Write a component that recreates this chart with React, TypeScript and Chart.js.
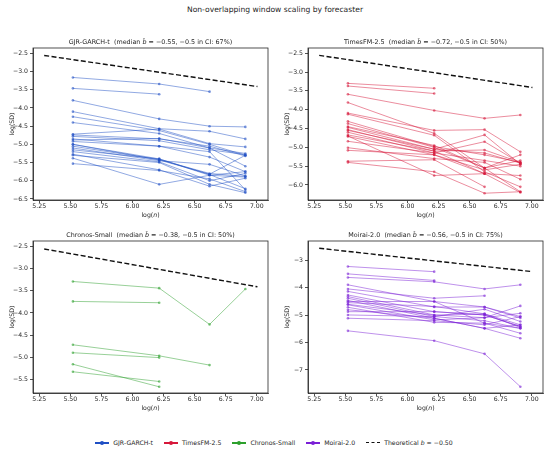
import { useEffect, useRef } from 'react';
import { Chart, registerables } from 'chart.js';

Chart.register(...registerables);
Chart.defaults.font.family = '"DejaVu Sans", sans-serif';

// log(n) for n = 250, 500, 750, 1000
const LOG_N = [5.521, 6.215, 6.62, 6.908];
const X_TICKS = [5.25, 5.5, 5.75, 6.0, 6.25, 6.5, 6.75, 7.0];

// theoretical slope -0.5 reference line (endpoints)
const THEORY_X = [5.29, 7.005];
const THEORY_Y = [-2.555, -3.41];

const GJR_SERIES = [
  [-3.16, -3.34, -3.55],
  [-3.46, -3.62],
  [-3.79, -4.3, -4.5, -4.52],
  [-4.1, -4.57, -4.64, -4.85],
  [-4.24, -4.62, -5.0, -5.3],
  [-4.4, -4.7, -5.1, -5.25],
  [-4.72, -4.58, -4.98, -5.07],
  [-4.74, -4.85, -5.05, -5.32],
  [-4.85, -5.05, -5.2, -6.25],
  [-4.88, -4.84, -5.1, -5.6],
  [-4.92, -5.05, -5.35, -5.75],
  [-5.0, -5.4, -5.85, -5.9],
  [-5.05, -5.42, -5.8, -5.88],
  [-5.1, -5.45, -5.55, -5.87],
  [-5.15, -5.4, -5.83, -6.22],
  [-5.2, -5.48, -6.0, -5.8],
  [-5.27, -5.7, -6.15, -5.93],
  [-5.3, -5.5, -6.1, -6.33],
  [-5.38, -6.1, -5.85, -5.75],
  [-5.53, -5.72, -5.95, -6.3],
  [-4.78, -4.9, -5.15, -5.28],
  [-5.0, -5.43, -5.82, -5.3],
];

const TIMESFM_SERIES = [
  [-3.3, -3.43],
  [-3.37, -3.57],
  [-3.59, -4.02, -4.23, -4.14],
  [-3.81, -4.63, -5.55, -6.18],
  [-4.09, -4.55, -4.53, -5.12],
  [-4.12, -4.68, -5.65, -6.05],
  [-4.31, -4.98, -5.2, -5.4],
  [-4.37, -5.0, -5.55, -5.2],
  [-4.47, -5.05, -4.67, -5.45],
  [-4.53, -5.1, -5.7, -5.75],
  [-4.6, -5.15, -5.35, -5.5],
  [-4.67, -5.1, -5.07, -5.4],
  [-4.71, -5.2, -5.6, -5.45],
  [-4.84, -5.15, -4.85, -5.42],
  [-5.01, -5.3, -5.4, -5.85],
  [-5.08, -5.2, -5.7, -6.2],
  [-5.37, -5.33, -6.05],
  [-5.4, -5.65, -6.22, -6.18],
  [-4.55, -5.05, -5.15, -5.42],
  [-4.45, -4.95, -5.55, -5.35],
  [-4.7, -5.75, -5.7],
];

const CHRONOS_SERIES = [
  [-3.29, -3.44, -4.26, -3.46],
  [-3.74, -3.77],
  [-4.72, -4.97, -5.18],
  [-4.9, -5.01],
  [-5.16, -5.67],
  [-5.33, -5.55],
];

const MOIRAI_SERIES = [
  [-3.22, -3.41],
  [-3.49, -3.73],
  [-3.62, -3.78, -4.04, -3.89],
  [-3.89, -4.5, -5.29, -5.48],
  [-4.04, -4.38, -4.29],
  [-4.13, -4.7, -4.7, -5.05],
  [-4.26, -4.87, -4.99, -5.41],
  [-4.32, -4.99, -5.09, -4.66],
  [-4.38, -5.05, -4.78, -5.23],
  [-4.46, -5.11, -5.48, -5.35],
  [-4.54, -4.68, -4.95, -5.45],
  [-4.62, -5.17, -5.09, -4.93],
  [-4.71, -5.26, -5.29, -5.66],
  [-4.8, -5.11, -5.48, -5.84],
  [-4.87, -4.87, -4.99, -5.41],
  [-4.99, -5.05, -5.2, -5.48],
  [-5.11, -5.2, -5.35, -5.05],
  [-5.57, -5.93, -6.41, -7.61],
  [-4.5, -4.5, -4.7, -5.1],
  [-4.6, -5.0, -4.95, -5.35],
];

const Y_TICKS_GJR = [-6.5, -6.0, -5.5, -5.0, -4.5, -4.0, -3.5, -3.0, -2.5];
const Y_TICKS_TIMESFM = [-6.0, -5.5, -5.0, -4.5, -4.0, -3.5, -3.0, -2.5];
const Y_TICKS_CHRONOS = [-5.5, -5.0, -4.5, -4.0, -3.5, -3.0, -2.5];
const Y_TICKS_MOIRAI = [-7, -6, -5, -4, -3];

const COLORS = {
  gjr: '31, 79, 196',
  timesfm: '214, 23, 58',
  chronos: '44, 160, 44',
  moirai: '122, 31, 214',
};

const FONT = 6.2;
const INK = '#262626';

const framePlugin = {
  id: 'frame',
  afterDraw(chart: Chart) {
    const { ctx, chartArea } = chart;
    ctx.save();
    ctx.strokeStyle = INK;
    ctx.lineWidth = 0.8;
    ctx.strokeRect(chartArea.left, chartArea.top, chartArea.right - chartArea.left, chartArea.bottom - chartArea.top);
    ctx.restore();
  },
};

const fmt = (v: number, d: number) => v.toFixed(d).replace('-', '\u2212');

interface PanelProps {
  name: string;
  median: string;
  share: string;
  series: number[][];
  color: string;
  yMin: number;
  yMax: number;
  yTicks: number[];
  yDecimals: number;
  left: number;
  top: number;
}

function Panel({ name, median, share, series, color, yMin, yMax, yTicks, yDecimals, left, top }: PanelProps) {
  const chartRef = useRef<HTMLCanvasElement>(null);
  const chartInstance = useRef<Chart | null>(null);

  useEffect(() => {
    if (!chartRef.current) return;
    if (chartInstance.current) chartInstance.current.destroy();

    const datasets: any[] = series.map(ys => ({
      data: ys.map((y, i) => ({ x: LOG_N[i], y })),
      borderColor: `rgba(${color}, 0.55)`,
      backgroundColor: `rgba(${color}, 0.6)`,
      borderWidth: 0.9,
      pointRadius: 1.3,
      pointBorderWidth: 0,
      pointBackgroundColor: `rgba(${color}, 0.6)`,
      tension: 0,
    }));
    datasets.push({
      data: THEORY_X.map((x, i) => ({ x, y: THEORY_Y[i] })),
      borderColor: '#111',
      borderWidth: 1.4,
      borderDash: [5, 2.4],
      pointRadius: 0,
    });

    chartInstance.current = new Chart(chartRef.current, {
      type: 'line',
      data: { datasets },
      plugins: [framePlugin],
      options: {
        animation: false,
        responsive: false,
        events: [],
        layout: { padding: { left: 0, right: 7, top: 28, bottom: 0 } },
        plugins: {
          legend: { display: false },
          tooltip: { enabled: false },
          title: { display: false },
        },
        scales: {
          x: {
            type: 'linear',
            min: 5.2,
            max: 7.09,
            afterBuildTicks: (s: any) => { s.ticks = X_TICKS.map(value => ({ value })); },
            afterFit: (s: any) => { s.height = 20; },
            grid: { drawOnChartArea: false, color: INK, lineWidth: 0.8, tickLength: 3 },
            border: { display: true, color: INK, width: 0.8 },
            ticks: {
              autoSkip: false,
              maxRotation: 0,
              padding: 0,
              color: INK,
              font: { size: FONT },
              callback: (v: any) => fmt(Number(v), 2),
            },
            title: { display: false },
          },
          y: {
            type: 'linear',
            min: yMin,
            max: yMax,
            afterBuildTicks: (s: any) => { s.ticks = yTicks.map(value => ({ value })); },
            afterFit: (s: any) => { s.width = 33; },
            grid: { drawOnChartArea: false, color: INK, lineWidth: 0.8, tickLength: 3 },
            border: { display: true, color: INK, width: 0.8 },
            ticks: {
              padding: 2,
              color: INK,
              font: { size: FONT },
              callback: (v: any) => fmt(Number(v), yDecimals),
            },
            title: { display: true, text: 'log(SD)', color: INK, font: { size: FONT }, padding: { top: 8.3, bottom: 0 } },
          },
        },
      },
    });

    return () => {
      if (chartInstance.current) {
        chartInstance.current.destroy();
        chartInstance.current = null;
      }
    };
  }, [series, color, yMin, yMax, yTicks, yDecimals]);

  return (
    <div style={{ position: 'absolute', left, top, width: 275, height: 200 }}>
      <canvas ref={chartRef} width={275} height={200} style={{ width: 275, height: 200, display: 'block' }}></canvas>
      <div style={{ position: 'absolute', left: 33, top: 18, width: 235, textAlign: 'center', fontSize: 6.4, lineHeight: '8px', whiteSpace: 'nowrap' }}>
        {name}{'\u00a0\u00a0'}(median <i>b&#770;</i> = {median}, {'\u22120.5'} in CI: {share})
      </div>
      <div style={{ position: 'absolute', left: 33, top: 191, width: 235, textAlign: 'center', fontSize: FONT, lineHeight: '8px' }}>
        log(<i>n</i>)
      </div>
    </div>
  );
}

function LegendItem({ color, label, dashed }: { color: string; label: React.ReactNode; dashed?: boolean }) {
  return (
    <div style={{ display: 'flex', alignItems: 'center' }}>
      <div style={{ position: 'relative', width: 14, height: 6, marginRight: 4 }}>
        {dashed ? (
          <div style={{ position: 'absolute', left: 0, top: 2.3, width: 14, borderTop: `1.4px dashed ${color}` }} />
        ) : (
          <>
            <div style={{ position: 'absolute', left: 0, top: 2.4, width: 14, height: 1.2, background: color }} />
            <div style={{ position: 'absolute', left: 5, top: 1, width: 4, height: 4, borderRadius: 2, background: color }} />
          </>
        )}
      </div>
      <span>{label}</span>
    </div>
  );
}

export default function App() {
  return (
    <div style={{ position: 'absolute', left: 0, top: 0, width: 550, height: 452, background: '#fff', fontFamily: '"DejaVu Sans", sans-serif', color: INK }}>
      <div style={{ position: 'absolute', left: 0, top: 5, width: 550, textAlign: 'center', fontSize: 7.6, lineHeight: '9px' }}>
        Non-overlapping window scaling by forecaster
      </div>
      <Panel name="GJR-GARCH-t" median={'\u22120.55'} share="67%" series={GJR_SERIES} color={COLORS.gjr}
        yMin={-6.53} yMax={-2.35} yTicks={Y_TICKS_GJR} yDecimals={1} left={0} top={20} />
      <Panel name="TimesFM-2.5" median={'\u22120.72'} share="50%" series={TIMESFM_SERIES} color={COLORS.timesfm}
        yMin={-6.4} yMax={-2.36} yTicks={Y_TICKS_TIMESFM} yDecimals={1} left={275} top={20} />
      <Panel name="Chronos-Small" median={'\u22120.38'} share="50%" series={CHRONOS_SERIES} color={COLORS.chronos}
        yMin={-5.81} yMax={-2.375} yTicks={Y_TICKS_CHRONOS} yDecimals={1} left={0} top={213} />
      <Panel name="Moirai-2.0" median={'\u22120.56'} share="75%" series={MOIRAI_SERIES} color={COLORS.moirai}
        yMin={-7.84} yMax={-2.29} yTicks={Y_TICKS_MOIRAI} yDecimals={0} left={275} top={213} />
      <div style={{ position: 'absolute', left: 0, top: 439, width: 548, display: 'flex', justifyContent: 'center', gap: 11, fontSize: FONT, lineHeight: '8px' }}>
        <LegendItem color={`rgb(${COLORS.gjr})`} label="GJR-GARCH-t" />
        <LegendItem color={`rgb(${COLORS.timesfm})`} label="TimesFM-2.5" />
        <LegendItem color={`rgb(${COLORS.chronos})`} label="Chronos-Small" />
        <LegendItem color={`rgb(${COLORS.moirai})`} label="Moirai-2.0" />
        <LegendItem color="#111" dashed label={<>Theoretical <i>b</i> = {'\u22120.50'}</>} />
      </div>
    </div>
  );
}
